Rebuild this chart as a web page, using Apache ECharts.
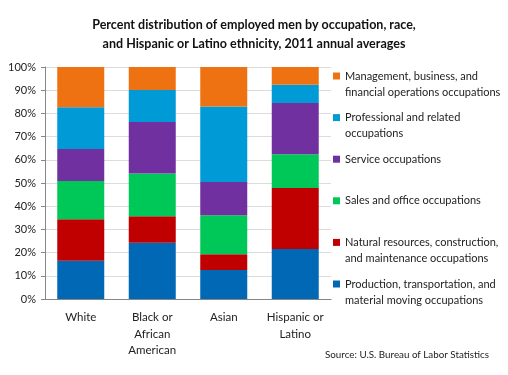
<!DOCTYPE html>
<html>
<head>
<meta charset="utf-8">
<script src="https://cdn.jsdelivr.net/npm/echarts@6/dist/echarts.min.js"></script>
<style>
  html, body { margin: 0; padding: 0; background: #fff; }
  #chart { width: 508px; height: 375px; }
</style>
</head>
<body>
<div id="chart"></div>
<script>
// groups on the x axis
var categories = ['White', 'Black or\nAfrican\nAmerican', 'Asian', 'Hispanic or\nLatino'];
// percent shares (bottom of stack first)
var production = [16.5, 24.2, 12.5, 21.6];
var naturalResources = [17.9, 11.5, 6.8, 26.2];
var salesOffice = [16.5, 18.4, 16.8, 14.6];
var service = [13.8, 22.2, 14.3, 22.1];
var professional = [17.9, 13.8, 32.6, 7.9];
var management = [17.4, 9.9, 17.0, 7.6];

var names = [
  'Production, transportation, and\nmaterial moving occupations',
  'Natural resources, construction,\nand maintenance occupations',
  'Sales and office occupations\n ',
  'Service occupations\n ',
  'Professional and related\noccupations',
  'Management, business, and\nfinancial operations occupations'
];
var values = [production, naturalResources, salesOffice, service, professional, management];
var colors = ['#0068b5', '#c00000', '#00c858', '#7030a0', '#009ad6', '#ef7212'];

var font = 'Lato, "Liberation Sans", sans-serif';
var myChart = echarts.init(document.getElementById('chart'));

var series = names.map(function (n, i) {
  return {
    name: n,
    type: 'bar',
    stack: 'total',
    barWidth: 47,
    itemStyle: { color: colors[i] },
    data: values[i]
  };
});

var option = {
  animation: false,
  textStyle: { fontFamily: font },
  title: {
    text: 'Percent distribution of employed men by occupation, race,\nand Hispanic or Latino ethnicity, 2011 annual averages',
    left: 'center',
    top: 11,
    textStyle: { fontSize: 12.5, fontWeight: 'bold', color: '#111', lineHeight: 18.6, fontFamily: font }
  },
  legend: {
    orient: 'vertical',
    left: 333,
    top: 68,
    padding: 0,
    itemGap: 9.6,
    itemWidth: 7,
    itemHeight: 23,
    // square sits at the top of the icon box, level with the first text line
    icon: 'path://M0,0H7V7H0Z M0,23L0,23',
    selectedMode: false,
    data: names.slice().reverse(),
    textStyle: { fontSize: 11, color: '#222', lineHeight: 16, fontFamily: font }
  },
  grid: { left: 45, right: 177, top: 67, bottom: 76 },
  xAxis: {
    type: 'category',
    data: categories,
    axisLine: { lineStyle: { color: '#868686' } },
    axisTick: { length: 4, lineStyle: { color: '#868686' } },
    axisLabel: { interval: 0, color: '#222', fontSize: 11.5, lineHeight: 16.7, margin: 10, fontFamily: font }
  },
  yAxis: {
    type: 'value',
    min: 0,
    max: 100,
    interval: 10,
    axisLine: { show: true, lineStyle: { color: '#868686' } },
    axisTick: { show: true, length: 4, lineStyle: { color: '#868686' } },
    axisLabel: { formatter: '{value}%', color: '#222', fontSize: 11, margin: 9, fontFamily: font },
    splitLine: { lineStyle: { color: '#dcdcdc' } }
  },
  graphic: [{
    type: 'text',
    left: 325,
    top: 350,
    style: { text: 'Source: U.S. Bureau of Labor Statistics', fontSize: 9.8, fill: '#222', fontFamily: font }
  }],
  series: series
};

myChart.setOption(option);
</script>
</body>
</html>
